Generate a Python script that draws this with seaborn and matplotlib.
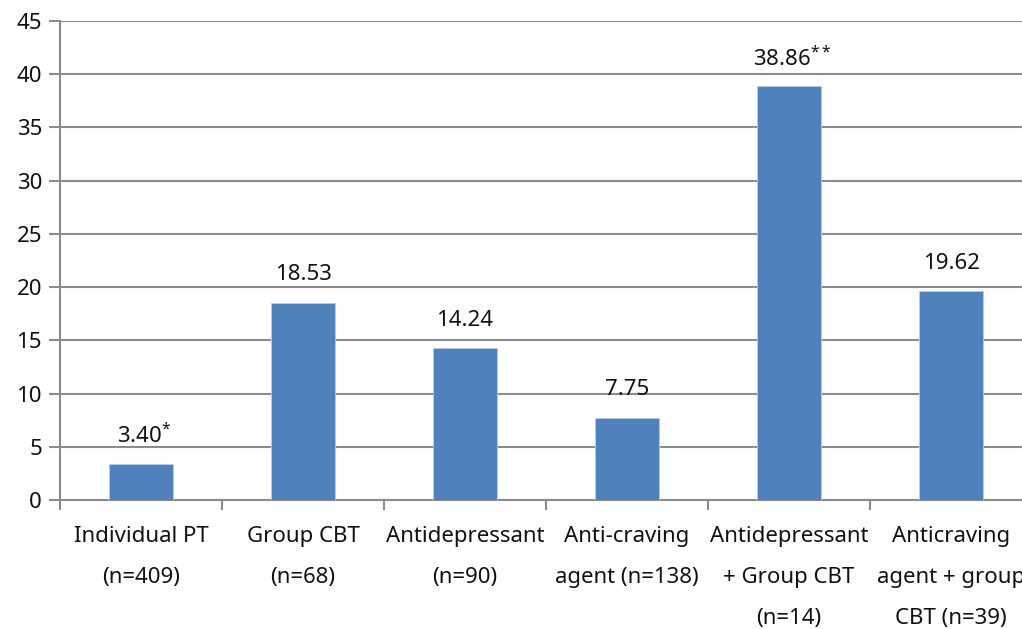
import matplotlib
matplotlib.use("Agg")
import matplotlib.pyplot as plt
import seaborn as sns
import pandas as pd
import numpy as np

categories = ["Individual PT\n(n=409)", "Group CBT\n(n=68)", "Antidepressant\n(n=90)",
              "Anti-craving\nagent (n=138)", "Antidepressant\n+ Group CBT\n(n=14)",
              "Anticraving\nagent + group\nCBT (n=39)"]
values = [3.40, 18.53, 14.24, 7.75, 38.86, 19.62]
value_labels = ["3.40", "18.53", "14.24", "7.75", "38.86", "19.62"]
marks = ["*", "", "", "", "**", ""]
y_ticks = [0, 5, 10, 15, 20, 25, 30, 35, 40, 45]

sns.set_theme(style="white")
plt.rcParams['font.family'] = ['Noto Sans', 'DejaVu Sans']
plt.rcParams['mathtext.default'] = 'regular'

FS = 16

fig = plt.figure(figsize=(10.22, 6.29), dpi=100)
ax = fig.add_axes([60/1022, 1-500/629, 972/1022, 479/629])

df = pd.DataFrame({"cat": categories, "val": values})
sns.barplot(data=df, x="cat", y="val", color="#4F81BD", saturation=1, width=0.4,
            edgecolor="#B9CDE5", linewidth=0.6, ax=ax, zorder=3)

ax.set_ylim(0, 45)
ax.set_xlim(-0.5, len(categories) - 0.5)
ax.set_yticks(y_ticks)
ax.set_yticklabels([str(t) for t in y_ticks], fontsize=FS, color="#111111")
ax.yaxis.grid(True, color="#8C8C8C", linewidth=1.5, zorder=0)
ax.set_axisbelow(True)
ax.tick_params(axis="y", length=8, width=1.5, color="#8C8C8C", pad=5, left=True)

ax.set_xticks(range(len(categories)))
ax.set_xticklabels(categories, fontsize=FS, color="#111111", linespacing=2.25)
ax.set_xticks(np.arange(-0.5, len(categories) + 0.5, 1), minor=True)
ax.tick_params(axis="x", which="major", length=0, pad=19)
ax.tick_params(axis="x", which="minor", length=7, width=1.5, color="#8C8C8C", bottom=True)
ax.set_xlabel("")
ax.set_ylabel("")

for s in ["top", "right"]:
    ax.spines[s].set_visible(False)
for s in ["left", "bottom"]:
    ax.spines[s].set_color("#8C8C8C")
    ax.spines[s].set_linewidth(1.5)

for i, (v, lab, m) in enumerate(zip(values, value_labels, marks)):
    txt = lab + (r"$^{" + m + "}$" if m else "")
    ax.annotate(txt, xy=(i, v), xytext=(0 if not m else 3, 28), textcoords="offset pixels",
                ha="center", va="center", fontsize=FS, color="#111111")

fig.savefig("out.png", dpi=100)
